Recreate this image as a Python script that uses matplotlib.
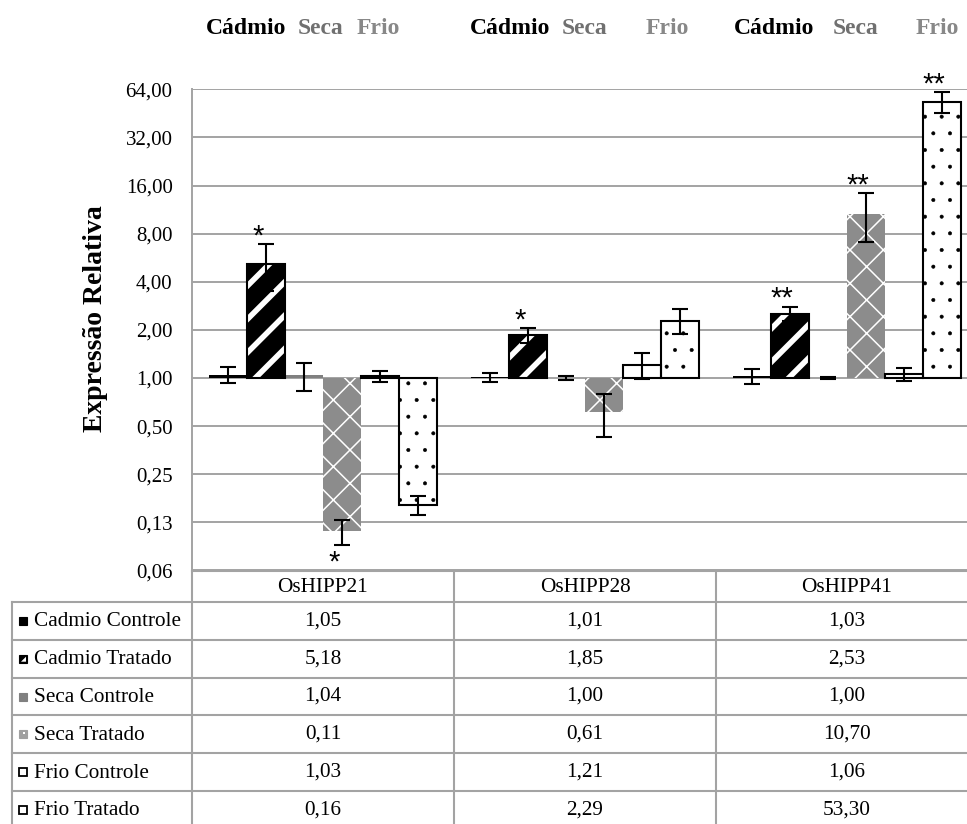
import numpy as np
import matplotlib.pyplot as plt
from matplotlib.patches import Rectangle, Polygon

plt.rcParams['font.family'] = ['Liberation Serif', 'DejaVu Serif']

genes = ['OsHIPP21', 'OsHIPP28', 'OsHIPP41']
series = ['Cadmio Controle', 'Cadmio Tratado', 'Seca Controle',
          'Seca Tratado', 'Frio Controle', 'Frio Tratado']

cadmio_controle = [1.05, 1.01, 1.03]
cadmio_tratado = [5.18, 1.85, 2.53]
seca_controle = [1.04, 1.00, 1.00]
seca_tratado = [0.11, 0.61, 10.70]
frio_controle = [1.03, 1.21, 1.06]
frio_tratado = [0.16, 2.29, 53.30]

err_cadmio_controle = [0.12, 0.07, 0.11]
err_cadmio_tratado = [1.68, 0.20, 0.25]
err_seca_controle = [0.21, 0.03, 0.01]
err_seca_tratado = [0.02, 0.18, 3.60]
err_frio_controle = [0.08, 0.22, 0.10]
err_frio_tratado = [0.022, 0.40, 8.00]

sig_cadmio_tratado = ['*', '*', '**']
sig_seca_tratado = ['*', '', '**']
sig_frio_tratado = ['', '', '**']

ytick_labels = ['0,06', '0,13', '0,25', '0,50', '1,00', '2,00',
                '4,00', '8,00', '16,00', '32,00', '64,00']
stress_labels = ['Cádmio', 'Seca', 'Frio']
stress_colors = ['black', '#707070', '#888888']

values = [cadmio_controle, cadmio_tratado, seca_controle,
          seca_tratado, frio_controle, frio_tratado]
errors = [err_cadmio_controle, err_cadmio_tratado, err_seca_controle,
          err_seca_tratado, err_frio_controle, err_frio_tratado]
sigs = [None, sig_cadmio_tratado, None, sig_seca_tratado, None, sig_frio_tratado]

W, H = 967, 824
fig = plt.figure(figsize=(W / 100, H / 100), dpi=100)

# background axes in pixel coords for table and labels
tax = fig.add_axes([0, 0, 1, 1])
tax.set_xlim(0, W)
tax.set_ylim(H, 0)
tax.axis('off')

# main plot, pixel layout
x0, x1 = 192, 978
y_top, y_bot = 89.4, 570.4
ax = fig.add_axes([x0 / W, 1 - y_bot / H, (x1 - x0) / W, (y_bot - y_top) / H])
ax.set_facecolor('none')
ax.set_yscale('log', base=2)
ax.set_ylim(2.0 ** -4, 2.0 ** 6)
ax.set_xlim(-0.5, 2.5)
ax.set_yticks(2.0 ** np.arange(-4, 7))
ax.set_yticklabels(ytick_labels)
ax.yaxis.set_minor_locator(plt.NullLocator())
ax.set_xticks([])
ax.tick_params(axis='y', length=0, pad=14, labelsize=15)
grid_c = '#a3a3a3'
ax.grid(axis='y', color=grid_c, lw=1.4)
ax.set_axisbelow(True)
for s in ['top', 'right', 'bottom']:
    ax.spines[s].set_visible(False)
ax.spines['left'].set_color(grid_c)
ax.spines['left'].set_linewidth(1.4)

x = np.arange(len(genes))
w = 0.145
styles = [
    dict(fc='black', hc=None, hatch=None, edge=None, hlw=None),
    dict(fc='black', hc='white', hatch='/', edge='black', hlw=4.0),
    dict(fc='#808080', hc=None, hatch=None, edge=None, hlw=None),
    dict(fc='#8c8c8c', hc='white', hatch='x', edge=None, hlw=1.1),
    dict(fc='white', hc=None, hatch=None, edge='black', hlw=None),
    dict(fc='white', hc='black', hatch='.', edge='black', hlw=0.4),
]

for k in range(6):
    xs = x + (k - 2.5) * w
    v = np.array(values[k])
    st = styles[k]
    hlw = st['hlw'] if st['hlw'] else 1.0
    with plt.rc_context({'hatch.linewidth': hlw}):
        bars = ax.bar(xs, v - 1, w, bottom=1, color=st['fc'],
                      edgecolor=st['hc'] if st['hc'] else st['fc'],
                      hatch=st['hatch'], lw=0, zorder=2)
    for b in bars:
        if hasattr(b, 'set_hatch_linewidth'):
            b.set_hatch_linewidth(hlw)
    if st['edge']:
        ax.bar(xs, v - 1, w, bottom=1, fill=False, edgecolor=st['edge'],
               lw=1.5, zorder=3)
    ax.errorbar(xs, v, yerr=errors[k], fmt='none', ecolor='black',
                elinewidth=1.5, capsize=5.5, capthick=1.5, zorder=4)
    if sigs[k]:
        for xi, vi, ei, s in zip(xs, v, errors[k], sigs[k]):
            if not s:
                continue
            if vi >= 1:
                ax.annotate(s, (xi, vi + ei), xytext=(-6, 0), textcoords='offset points',
                            ha='center', va='baseline', fontsize=21,
                            family='Liberation Sans', zorder=5)
            else:
                ax.annotate(s, (xi, vi - ei), xytext=(-6, -18), textcoords='offset points',
                            ha='center', va='baseline', fontsize=21,
                            family='Liberation Sans', zorder=5)

# y label
tax.text(95, 319, 'Expressão Relativa', rotation=90, ha='center', va='center',
         fontsize=20, fontweight='bold')

# stress labels above the plot
label_x = [[206, 298, 357], [470, 562, 646], [734, 833, 916]]
for g in range(3):
    for lab, col, lx in zip(stress_labels, stress_colors, label_x[g]):
        tax.text(lx, 28, lab, ha='left', va='center', fontsize=17,
                 fontweight='bold', color=col)

# data table
tc = '#a3a3a3'
col_edges = [x0 + (x1 - x0) * i / 3 for i in range(4)]
row_edges = [602 + 37.8 * i for i in range(7)]
lab_left = 12
tax.plot([x0, x1], [571, 571], color=tc, lw=1.5)
for ye in row_edges:
    tax.plot([lab_left, x1], [ye, ye], color=tc, lw=1.5)
tax.plot([lab_left, lab_left], [row_edges[0], H + 10], color=tc, lw=1.5)
for xe in col_edges:
    tax.plot([xe, xe], [571, H + 10], color=tc, lw=1.5)

for g, gene in enumerate(genes):
    cx = (col_edges[g] + col_edges[g + 1]) / 2
    tax.text(cx, 588, gene, ha='center', va='center', fontsize=15.3)
    for k in range(6):
        cy = (row_edges[k] + row_edges[k + 1]) / 2
        tax.text(cx, cy, '{:.2f}'.format(values[k][g]).replace('.', ','),
                 ha='center', va='center', fontsize=15.3)

for k, name in enumerate(series):
    cy = (row_edges[k] + row_edges[k + 1]) / 2
    tax.text(34, cy + 1, name, ha='left', va='center', fontsize=15.3)
    sq = dict(xy=(19, cy - 4), width=8, height=8)
    if k == 0:
        tax.add_patch(Rectangle(**sq, fc='black', ec='black', lw=0.8))
    elif k == 1:
        tax.add_patch(Rectangle(**sq, fc='black', ec='black', lw=0.8))
        tax.add_patch(Polygon([(21, cy + 3), (26, cy - 2), (26, cy + 3)], closed=True,
                              fc='white', ec='none'))
    elif k == 2:
        tax.add_patch(Rectangle(**sq, fc='#808080', ec='#808080', lw=0.8))
    elif k == 3:
        tax.add_patch(Rectangle(**sq, fc='#a0a0a0', ec='#a0a0a0', lw=0.8))
        tax.add_patch(Rectangle((23, cy - 2), 2, 2, fc='white', ec='none'))
    else:
        tax.add_patch(Rectangle(**sq, fc='white', ec='black', lw=1.3))

fig.savefig('out.png', dpi=100)
